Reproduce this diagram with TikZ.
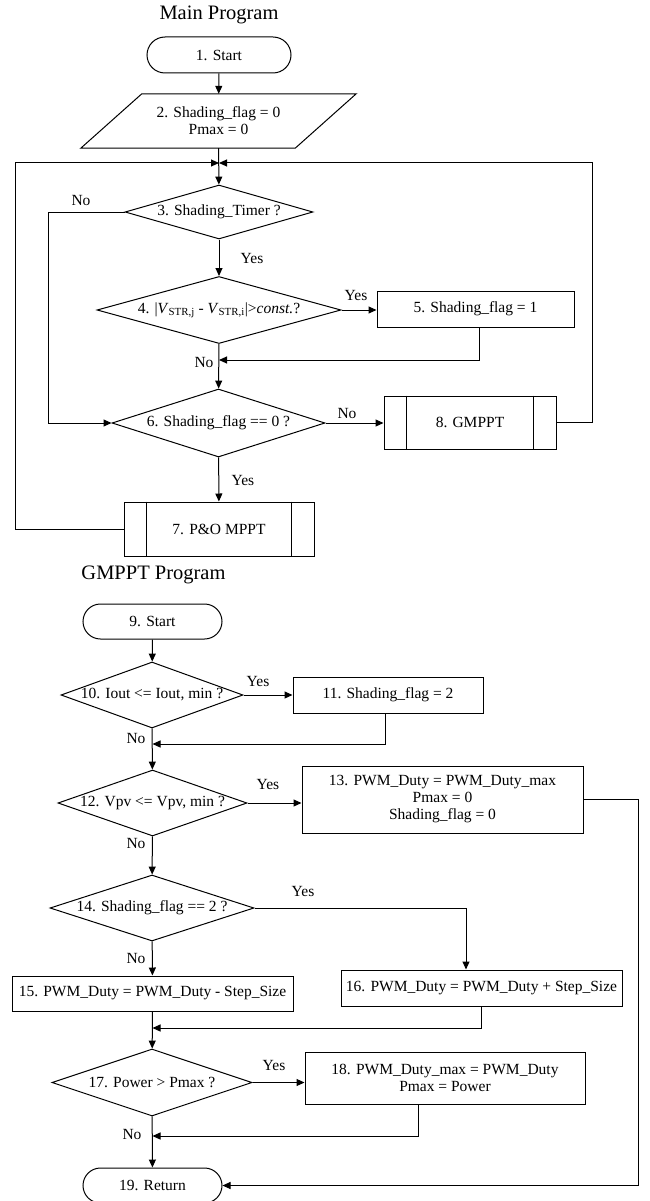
\documentclass[tikz,border=0pt]{standalone}
\usepackage{fontspec}
\setmainfont{Liberation Serif}
\usetikzlibrary{shapes.geometric,shapes.misc,arrows.meta,calc}
\begin{document}
\begin{tikzpicture}[x=1pt,y=-1pt,
  every node/.style={font=\fontsize{15.5}{17}\selectfont},
  ln/.style={line width=1pt},
  arr/.style={ln,-{Triangle[length=8pt,width=7pt]}},
  ttl/.style={font=\fontsize{20.5}{23}\selectfont,inner sep=0pt},
  term/.style={draw,ln,rounded rectangle,inner sep=0pt},
  boxn/.style={draw,ln,rectangle,inner sep=0pt,align=center},
  dia/.style={draw,ln,diamond,inner sep=0pt},
  lbl/.style={inner sep=0pt}
]
\useasboundingbox (0,0) rectangle (649,1201);

% ---------------- Main program ----------------
\node[ttl] (t1) at (219,15) {Main Program};
\node[term,minimum width=144pt,minimum height=36pt] (n1) at (219,55) {1. Start};
\node[inner sep=0pt,minimum width=275pt,minimum height=54pt,align=center] (n2) at (218.5,121) {2. Shading\_flag = 0\\Pmax = 0};
\draw[ln] ($(n2.north west)+(61,0)$) -- (n2.north east) -- ($(n2.south east)+(-61,0)$) -- (n2.south west) -- cycle;
\coordinate (j) at (219,163);
\node[dia,minimum width=188pt,minimum height=54pt,label={center:3. Shading\_Timer ?}] (n3) at (219,212) {};
\node[dia,minimum width=244pt,minimum height=67pt,label={center:4. |\textit{V}\textsubscript{STR,j} - \textit{V}\textsubscript{STR,i}|>\textit{const.}?}] (n4) at (219,310) {};
\node[boxn,minimum width=197pt,minimum height=36pt] (n5) at (475.5,309) {5. Shading\_flag = 1};
\node[dia,minimum width=213pt,minimum height=68pt,label={center:6. Shading\_flag == 0 ?}] (n6) at (218.5,423) {};
\node[boxn,minimum width=172pt,minimum height=53pt] (n8) at (470,422.5) {8. GMPPT};
\draw[ln] ($(n8.north west)+(23,0)$) -- ($(n8.south west)+(23,0)$);
\draw[ln] ($(n8.north east)+(-23,0)$) -- ($(n8.south east)+(-23,0)$);
\node[boxn,minimum width=190pt,minimum height=54pt] (n7) at (219,529) {7. P\&O MPPT};
\draw[ln] ($(n7.north west)+(23,0)$) -- ($(n7.south west)+(23,0)$);
\draw[ln] ($(n7.north east)+(-23,0)$) -- ($(n7.south east)+(-23,0)$);

\coordinate (cL) at (15,163);
\coordinate (cR) at (592,163);
\coordinate (cN) at (48,212);
\coordinate (m1) at (219,360);

\draw[arr] (n1) -- (n2);
\draw[arr] (n2) -- (n3);
\draw[arr] (n7.west) -| (cL) -- (j);
\draw[arr] (n8.east) -| (cR) -- (j);
\draw[arr] (n3.west) -- (cN) |- (n6.west);
\draw[arr] (n3) -- (n4);
\draw[arr] (n4.east) -- (n4.east -| n5.west);
\draw[arr] ($(n5.south)+(3.5,0)$) |- (m1);
\draw[arr] (n4) -- (n6);
\draw[arr] (n6.east) -- (n6.east -| n8.west);
\draw[arr] (n6) -- (n7);

\node[lbl] (l1) at (81,201) {No};
\node[lbl] (l2) at (252,259) {Yes};
\node[lbl] (l3) at (356,295) {Yes};
\node[lbl] (l4) at (204,362) {No};
\node[lbl] (l5) at (347,413) {No};
\node[lbl] (l6) at (243,480) {Yes};

% ---------------- GMPPT program ----------------
\node[ttl] (t2) at (153.5,575) {GMPPT Program};
\node[term,minimum width=139pt,minimum height=35pt] (n9) at (152.5,621.5) {9. Start};
\node[dia,minimum width=182pt,minimum height=66pt,label={center:10. Iout <= Iout, min ?}] (n10) at (152,695) {};
\node[boxn,minimum width=190pt,minimum height=36pt] (n11) at (388,695) {11. Shading\_flag = 2};
\node[dia,minimum width=189pt,minimum height=66pt,label={center:12. Vpv <= Vpv, min ?}] (n12) at (152.5,803) {};
\node[boxn,minimum width=281pt,minimum height=67pt] (n13) at (442.5,799.5) {13. PWM\_Duty = PWM\_Duty\_max\\Pmax = 0\\Shading\_flag = 0};
\node[dia,minimum width=204pt,minimum height=66pt,label={center:14. Shading\_flag == 2 ?}] (n14) at (152,908) {};
\node[boxn,minimum width=281pt,minimum height=35pt] (n15) at (152.5,993.5) {15. PWM\_Duty = PWM\_Duty - Step\_Size};
\node[boxn,minimum width=281pt,minimum height=36pt] (n16) at (481.5,988) {16. PWM\_Duty = PWM\_Duty + Step\_Size};
\node[dia,minimum width=200pt,minimum height=67pt,label={center:17. Power > Pmax ?}] (n17) at (152,1082.5) {};
\node[boxn,minimum width=280pt,minimum height=52pt] (n18) at (445,1078) {18. PWM\_Duty\_max = PWM\_Duty\\Pmax = Power};
\node[term,minimum width=139pt,minimum height=35pt] (n19) at (152.5,1185.5) {19. Return};

\coordinate (m2) at (152.5,744);
\coordinate (m3) at (152.5,1028);
\coordinate (m4) at (152.5,1136);
\coordinate (cR2) at (638,1185.5);

\draw[arr] (n9) -- (n10);
\draw[arr] (n10.east) -- (n10.east -| n11.west);
\draw[arr] ($(n11.south)+(-3,0)$) |- (m2);
\draw[arr] (n10) -- (n12);
\draw[arr] (n12.east) -- (n12.east -| n13.west);
\draw[arr] (n13.east) -| (cR2) -- (n19.east);
\draw[arr] (n12) -- (n14);
\draw[arr] (n14.east) -| ($(n16.north)+(-15.5,0)$);
\draw[arr] (n14) -- (n15);
\draw[arr] (n16.south) |- (m3);
\draw[arr] (n15) -- (n17);
\draw[arr] (n17.east) -- (n17.east -| n18.west);
\draw[arr] ($(n18.south)+(-27,0)$) |- (m4);
\draw[arr] (n17) -- (n19);

\node[lbl] (l7) at (258,681) {Yes};
\node[lbl] (l8) at (136,738) {No};
\node[lbl] (l9) at (268,784) {Yes};
\node[lbl] (l10) at (136,843) {No};
\node[lbl] (l11) at (303,891) {Yes};
\node[lbl] (l12) at (136,958) {No};
\node[lbl] (l13) at (274,1065) {Yes};
\node[lbl] (l14) at (132,1134) {No};
\end{tikzpicture}
\end{document}
